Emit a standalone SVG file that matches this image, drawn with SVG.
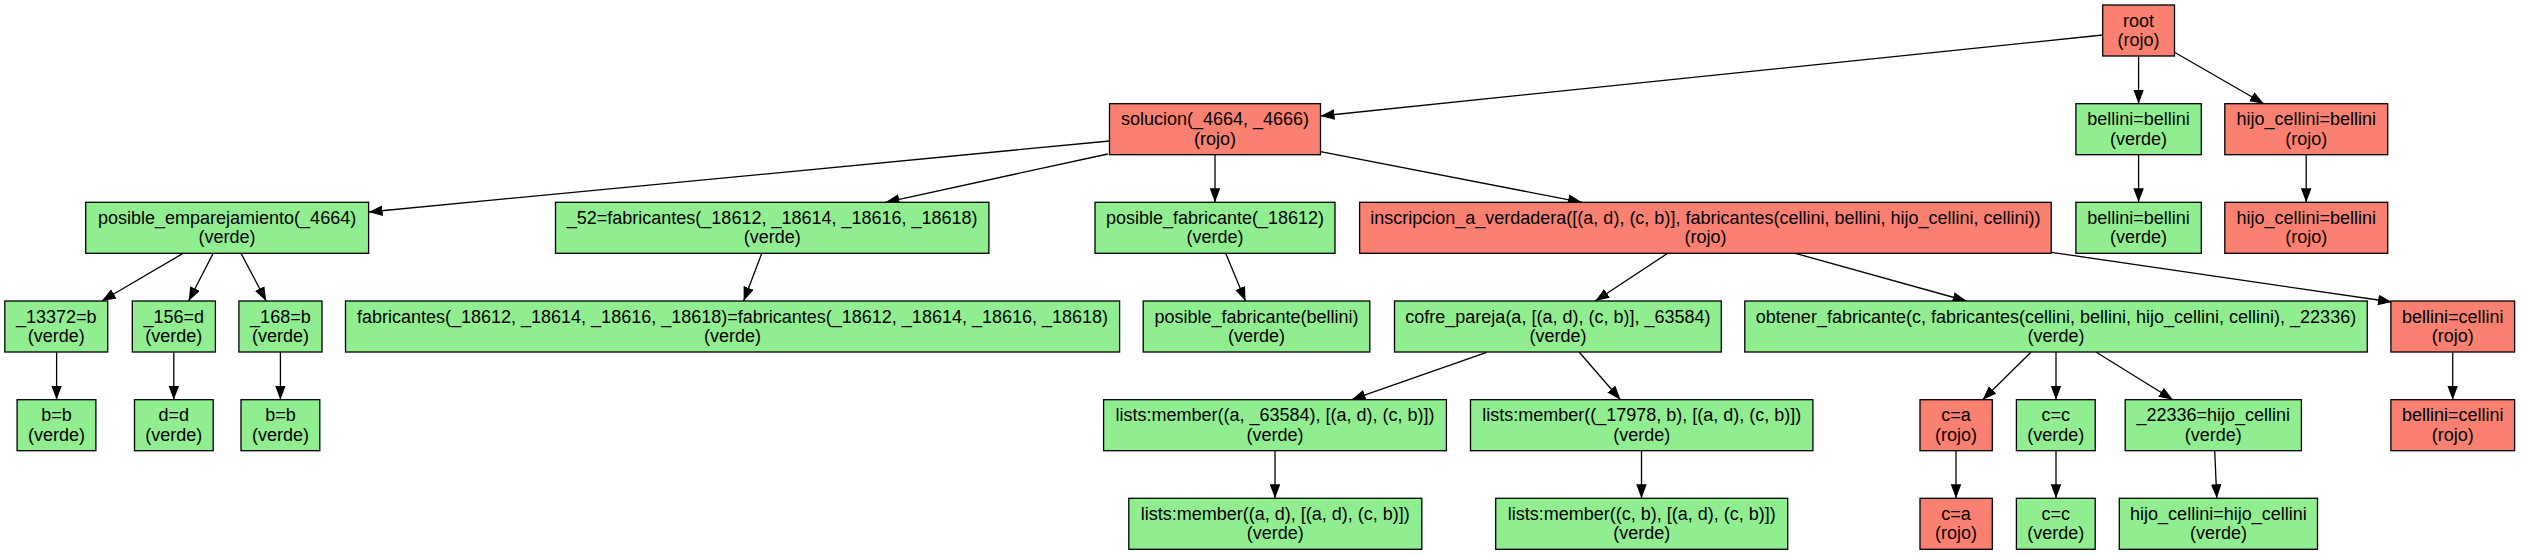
<svg xmlns="http://www.w3.org/2000/svg" width="2521" height="555" viewBox="0 0 2521 555">
<style>
rect{stroke:#000;stroke-width:1.3}
.g{fill:#90ee90}
.r{fill:#fa8072}
text{font-family:"Liberation Sans",Arial,sans-serif;font-size:18px;text-anchor:middle;fill:#000}
#edges line{stroke:#000;stroke-width:1.3;fill:none;marker-end:url(#ah)}
</style>
<defs>
<marker id="ah" markerUnits="userSpaceOnUse" markerWidth="15" markerHeight="11" refX="14" refY="5.3" orient="auto">
<path d="M0,0 L14,5.3 L0,10.6 z" fill="#000"/>
</marker>
</defs>
<rect x="0" y="0" width="2521" height="555" fill="#fff" style="stroke:none"/>
<g id="edges">
<line x1="2102.7" y1="35" x2="1320.5" y2="116"/>
<line x1="2138.6" y1="56" x2="2138.6" y2="103.7"/>
<line x1="2174.5" y1="52.3" x2="2263.9" y2="103.7"/>
<line x1="2138.6" y1="154.7" x2="2138.6" y2="202.3"/>
<line x1="2306.2" y1="154.7" x2="2306.2" y2="202.3"/>
<line x1="1109.5" y1="141" x2="368.6" y2="212"/>
<line x1="1107.9" y1="154" x2="885.5" y2="202.3"/>
<line x1="1215" y1="154.7" x2="1215" y2="202.3"/>
<line x1="1320.5" y1="151.7" x2="1582" y2="202.3"/>
<line x1="183.2" y1="253.3" x2="101.8" y2="301"/>
<line x1="213.2" y1="253.3" x2="188.6" y2="301"/>
<line x1="241" y1="253.3" x2="266.2" y2="301"/>
<line x1="761.8" y1="253.3" x2="743.6" y2="301"/>
<line x1="1225.7" y1="253.3" x2="1245.5" y2="301"/>
<line x1="1667.7" y1="253.3" x2="1595.3" y2="301"/>
<line x1="1795.2" y1="253.3" x2="1966.6" y2="301"/>
<line x1="2051.2" y1="252.3" x2="2392" y2="302"/>
<line x1="56.6" y1="352.3" x2="56.6" y2="399.7"/>
<line x1="173.8" y1="352.3" x2="173.8" y2="399.7"/>
<line x1="280.4" y1="352.3" x2="280.4" y2="399.7"/>
<line x1="1486.6" y1="352.3" x2="1351.6" y2="399.7"/>
<line x1="1579.3" y1="352.3" x2="1620.5" y2="399.7"/>
<line x1="2030.9" y1="352.3" x2="1982.7" y2="399.7"/>
<line x1="2056" y1="352.3" x2="2056" y2="399.7"/>
<line x1="2096.3" y1="352.3" x2="2172.9" y2="399.7"/>
<line x1="2452.7" y1="352.3" x2="2452.7" y2="399.7"/>
<line x1="1275" y1="450.7" x2="1275" y2="498.3"/>
<line x1="1641.5" y1="450.7" x2="1641.5" y2="498.3"/>
<line x1="1956" y1="450.7" x2="1956" y2="498.3"/>
<line x1="2056" y1="450.7" x2="2056" y2="498.3"/>
<line x1="2214.7" y1="450.7" x2="2216.8" y2="498.3"/>
</g>
<g id="n_root"><rect class="r" x="2102.7" y="5" width="71.8" height="51"/><text x="2138.6" y="26.5">root</text><text x="2138.6" y="46">(rojo)</text></g>
<g id="n_solucion"><rect class="r" x="1109.5" y="103.7" width="211" height="51"/><text x="1215" y="125.2">solucion(_4664, _4666)</text><text x="1215" y="144.7">(rojo)</text></g>
<g id="n_bb1"><rect class="g" x="2075.9" y="103.7" width="125.4" height="51"/><text x="2138.6" y="125.2">bellini=bellini</text><text x="2138.6" y="144.7">(verde)</text></g>
<g id="n_hb1"><rect class="r" x="2224.8" y="103.7" width="162.9" height="51"/><text x="2306.2" y="125.2">hijo_cellini=bellini</text><text x="2306.2" y="144.7">(rojo)</text></g>
<g id="n_pe"><rect class="g" x="85.7" y="202.3" width="282.9" height="51"/><text x="227.1" y="223.8">posible_emparejamiento(_4664)</text><text x="227.1" y="243.3">(verde)</text></g>
<g id="n_52"><rect class="g" x="555.5" y="202.3" width="433.4" height="51"/><text x="772.2" y="223.8">_52=fabricantes(_18612, _18614, _18616, _18618)</text><text x="772.2" y="243.3">(verde)</text></g>
<g id="n_pf"><rect class="g" x="1095" y="202.3" width="240" height="51"/><text x="1215" y="223.8">posible_fabricante(_18612)</text><text x="1215" y="243.3">(verde)</text></g>
<g id="n_insc"><rect class="r" x="1359.6" y="202.3" width="691.6" height="51"/><text x="1705.4" y="223.8">inscripcion_a_verdadera([(a, d), (c, b)], fabricantes(cellini, bellini, hijo_cellini, cellini))</text><text x="1705.4" y="243.3">(rojo)</text></g>
<g id="n_bb2"><rect class="g" x="2075.9" y="202.3" width="125.4" height="51"/><text x="2138.6" y="223.8">bellini=bellini</text><text x="2138.6" y="243.3">(verde)</text></g>
<g id="n_hb2"><rect class="r" x="2224.8" y="202.3" width="162.9" height="51"/><text x="2306.2" y="223.8">hijo_cellini=bellini</text><text x="2306.2" y="243.3">(rojo)</text></g>
<g id="n_13372"><rect class="g" x="4.8" y="301" width="102.9" height="51"/><text x="56.2" y="322.5">_13372=b</text><text x="56.2" y="342">(verde)</text></g>
<g id="n_156"><rect class="g" x="132.3" y="301" width="83.1" height="51"/><text x="173.8" y="322.5">_156=d</text><text x="173.8" y="342">(verde)</text></g>
<g id="n_168"><rect class="g" x="238.9" y="301" width="83.1" height="51"/><text x="280.4" y="322.5">_168=b</text><text x="280.4" y="342">(verde)</text></g>
<g id="n_fab"><rect class="g" x="345.5" y="301" width="774.1" height="51"/><text x="732.5" y="322.5">fabricantes(_18612, _18614, _18616, _18618)=fabricantes(_18612, _18614, _18616, _18618)</text><text x="732.5" y="342">(verde)</text></g>
<g id="n_pfb"><rect class="g" x="1143.2" y="301" width="226.6" height="51"/><text x="1256.5" y="322.5">posible_fabricante(bellini)</text><text x="1256.5" y="342">(verde)</text></g>
<g id="n_cofre"><rect class="g" x="1394.5" y="301" width="326.8" height="51"/><text x="1557.9" y="322.5">cofre_pareja(a, [(a, d), (c, b)], _63584)</text><text x="1557.9" y="342">(verde)</text></g>
<g id="n_obt"><rect class="g" x="1744.8" y="301" width="622.5" height="51"/><text x="2056" y="322.5">obtener_fabricante(c, fabricantes(cellini, bellini, hijo_cellini, cellini), _22336)</text><text x="2056" y="342">(verde)</text></g>
<g id="n_bc1"><rect class="r" x="2390.9" y="301" width="123.7" height="51"/><text x="2452.7" y="322.5">bellini=cellini</text><text x="2452.7" y="342">(rojo)</text></g>
<g id="n_bb_a"><rect class="g" x="17.1" y="399.7" width="78.8" height="51"/><text x="56.5" y="421.2">b=b</text><text x="56.5" y="440.7">(verde)</text></g>
<g id="n_dd"><rect class="g" x="134.5" y="399.7" width="78.7" height="51"/><text x="173.8" y="421.2">d=d</text><text x="173.8" y="440.7">(verde)</text></g>
<g id="n_bb_b"><rect class="g" x="241" y="399.7" width="78.8" height="51"/><text x="280.4" y="421.2">b=b</text><text x="280.4" y="440.7">(verde)</text></g>
<g id="n_lm1"><rect class="g" x="1103.6" y="399.7" width="342.8" height="51"/><text x="1275" y="421.2">lists:member((a, _63584), [(a, d), (c, b)])</text><text x="1275" y="440.7">(verde)</text></g>
<g id="n_lm2"><rect class="g" x="1470.5" y="399.7" width="342.4" height="51"/><text x="1641.7" y="421.2">lists:member((_17978, b), [(a, d), (c, b)])</text><text x="1641.7" y="440.7">(verde)</text></g>
<g id="n_ca1"><rect class="r" x="1920" y="399.7" width="72.3" height="51"/><text x="1956.1" y="421.2">c=a</text><text x="1956.1" y="440.7">(rojo)</text></g>
<g id="n_cc1"><rect class="g" x="2016.4" y="399.7" width="78.8" height="51"/><text x="2055.8" y="421.2">c=c</text><text x="2055.8" y="440.7">(verde)</text></g>
<g id="n_22336"><rect class="g" x="2125.2" y="399.7" width="176.2" height="51"/><text x="2213.3" y="421.2">_22336=hijo_cellini</text><text x="2213.3" y="440.7">(verde)</text></g>
<g id="n_bc2"><rect class="r" x="2390.9" y="399.7" width="123.7" height="51"/><text x="2452.7" y="421.2">bellini=cellini</text><text x="2452.7" y="440.7">(rojo)</text></g>
<g id="n_lm3"><rect class="g" x="1128.8" y="498.3" width="293" height="51"/><text x="1275.3" y="519.8">lists:member((a, d), [(a, d), (c, b)])</text><text x="1275.3" y="539.3">(verde)</text></g>
<g id="n_lm4"><rect class="g" x="1495.7" y="498.3" width="292" height="51"/><text x="1641.7" y="519.8">lists:member((c, b), [(a, d), (c, b)])</text><text x="1641.7" y="539.3">(verde)</text></g>
<g id="n_ca2"><rect class="r" x="1920" y="498.3" width="72.3" height="51"/><text x="1956.1" y="519.8">c=a</text><text x="1956.1" y="539.3">(rojo)</text></g>
<g id="n_cc2"><rect class="g" x="2016.4" y="498.3" width="78.8" height="51"/><text x="2055.8" y="519.8">c=c</text><text x="2055.8" y="539.3">(verde)</text></g>
<g id="n_hh"><rect class="g" x="2119.3" y="498.3" width="198.2" height="51"/><text x="2218.4" y="519.8">hijo_cellini=hijo_cellini</text><text x="2218.4" y="539.3">(verde)</text></g>
</svg>
